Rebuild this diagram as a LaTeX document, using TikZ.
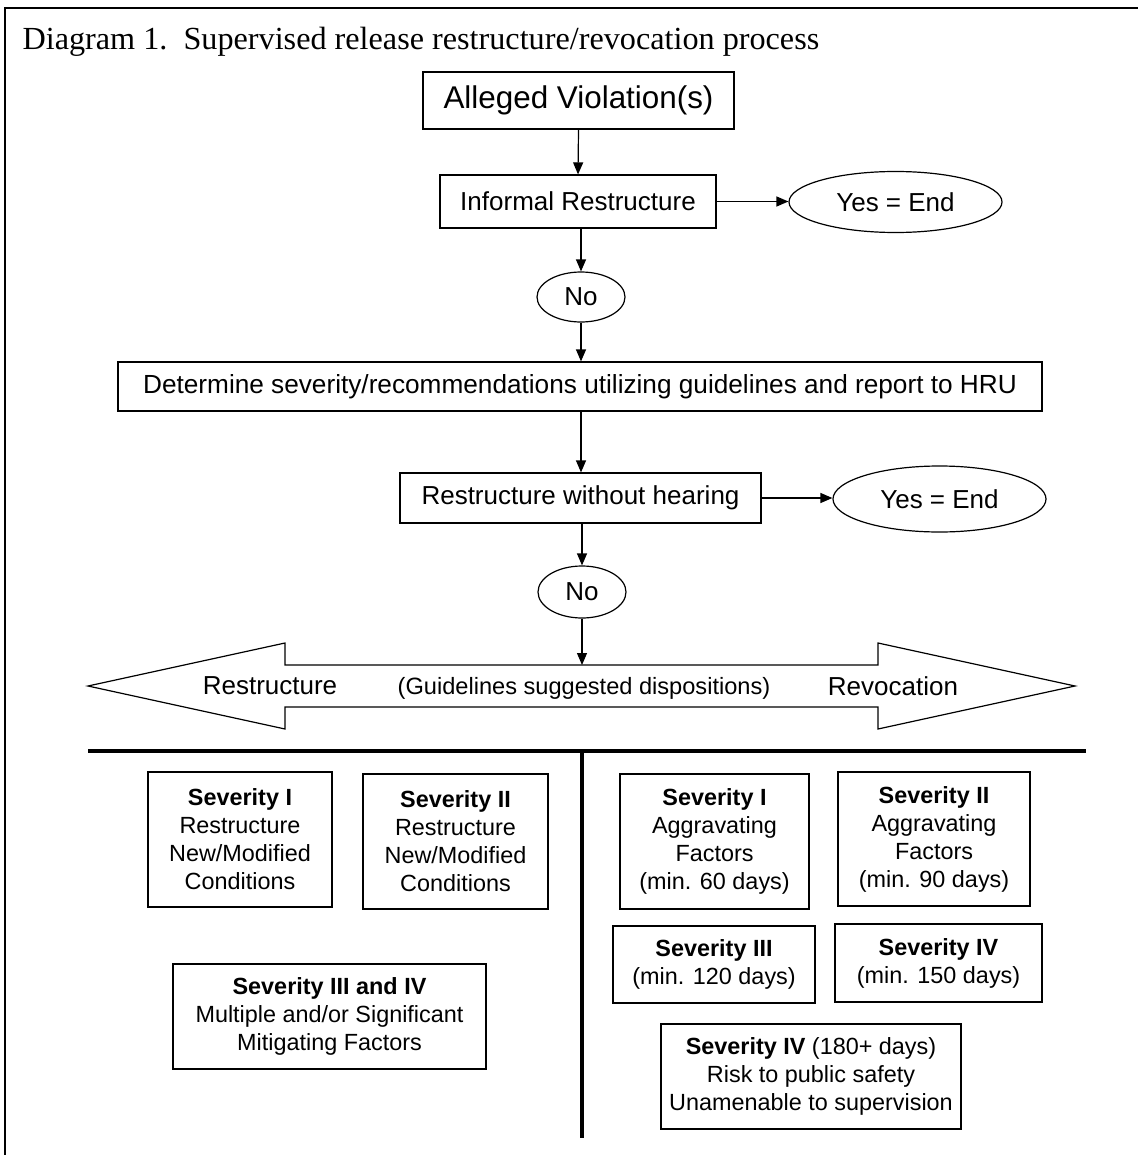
\documentclass[tikz,border=0pt]{standalone}
\usepackage{fontspec}
\setmainfont{Liberation Serif}
\setsansfont{Liberation Sans}
\usetikzlibrary{arrows.meta, shapes.geometric}

\begin{document}
\begin{tikzpicture}[x=0.5pt, y=-0.5pt, line width=0.6pt,
    box/.style={draw, inner sep=0pt, font=\sffamily\fontsize{13}{15}\selectfont},
    oval/.style={draw, ellipse, inner sep=0pt, font=\sffamily\fontsize{13}{15}\selectfont},
    sevbox/.style={draw, inner sep=0pt, align=center, font=\sffamily\fontsize{11.7}{14}\selectfont},
    arr/.style={-{Triangle[length=6pt, width=5pt]}}]
    % Page frame
    \useasboundingbox (0,0) rectangle (1138,1155);
    \draw (5,1155) -- (5,8) -- (1138,8);
    \node[anchor=base west, inner sep=0pt, font=\fontsize{16.1}{18}\selectfont] (title) at (22,50)
        {Diagram 1.\ \ Supervised release restructure/revocation process};

    % Upper flow
    \node[box, minimum width=155.5pt, minimum height=28.5pt, font=\sffamily\fontsize{15.7}{18}\selectfont] (alleged) at (578.5,100.5) {Alleged Violation(s)};
    \node[box, minimum width=138pt, minimum height=26.5pt] (informal) at (578,201.5) {Informal Restructure};
    \node[oval, minimum width=106.5pt, minimum height=30.5pt] (yes1) at (895.5,202) {Yes = End};
    \node[oval, minimum width=44pt, minimum height=25pt] (no1) at (581,297) {No};
    \node[box, minimum width=462pt, minimum height=24.5pt, font=\sffamily\fontsize{13.1}{15}\selectfont] (determine) at (580,386.5) {Determine severity/recommendations utilizing guidelines and report to HRU};
    \node[box, minimum width=180.5pt, minimum height=25pt] (nohearing) at (580.5,498) {Restructure without hearing};
    \node[oval, minimum width=106.5pt, minimum height=33pt] (yes2) at (939.5,499) {Yes = End};
    \node[oval, minimum width=44pt, minimum height=26pt] (no2) at (582,592) {No};

    \draw[arr] (alleged.south) -- (informal.south |- informal.north);
    \draw[arr] (informal.east) -- (informal.east -| yes1.west);
    \draw[arr] (informal.south -| no1.north) -- (no1.north);
    \draw[arr] (no1.south) -- (no1.south |- determine.north);
    \draw[arr] (determine.south -| no1.south) -- (nohearing.north -| no1.south);
    \draw[arr] (nohearing.east) -- (nohearing.east -| yes2.west);
    \draw[arr] (nohearing.south -| no2.north) -- (no2.north);

    % Double arrow of dispositions
    \coordinate (bodytop) at (582,665);
    \draw (88,686) -- (285,643) -- (285,665) -- (878,665) -- (878,643) -- (1075,686)
        -- (878,729) -- (878,707) -- (285,707) -- (285,729) -- cycle;
    \draw[arr] (no2.south) -- (bodytop);
    \node[font=\sffamily\fontsize{13}{15}\selectfont] (restr) at (270,686) {Restructure};
    \node[font=\sffamily\fontsize{11.8}{14}\selectfont] (guide) at (584,688) {(Guidelines suggested dispositions)};
    \node[font=\sffamily\fontsize{13}{15}\selectfont] (revoc) at (893,686) {Revocation};

    % Dividers
    \draw[line width=2pt] (88,751) -- (1086,751);
    \draw[line width=1.8pt] (582,751) -- (582,1138);

    % Restructure side
    \node[sevbox, minimum width=92pt, minimum height=67.5pt] (rs1) at (240,839.5)
        {\textbf{Severity I}\\Restructure\\New/Modified\\Conditions};
    \node[sevbox, minimum width=92.5pt, minimum height=67.5pt] (rs2) at (455.5,841.5)
        {\textbf{Severity II}\\Restructure\\New/Modified\\Conditions};
    \node[sevbox, minimum width=156.5pt, minimum height=52.5pt] (rs34) at (329.5,1016.5)
        {\textbf{Severity III and IV}\\Multiple and/or Significant\\Mitigating Factors};

    % Revocation side
    \node[sevbox, minimum width=94.5pt, minimum height=67.5pt] (rv1) at (714.5,841.5)
        {\textbf{Severity I}\\Aggravating\\Factors\\(min. 60 days)};
    \node[sevbox, minimum width=96pt, minimum height=67pt] (rv2) at (934,839)
        {\textbf{Severity II}\\Aggravating\\Factors\\(min. 90 days)};
    \node[sevbox, minimum width=101pt, minimum height=38.5pt] (rv3) at (714,964.5)
        {\textbf{Severity III}\\(min. 120 days)};
    \node[sevbox, minimum width=103.5pt, minimum height=39pt] (rv4) at (938.5,963)
        {\textbf{Severity IV}\\(min. 150 days)};
    \node[sevbox, minimum width=150pt, minimum height=52.5pt] (rv4p) at (811,1076.5)
        {\textbf{Severity IV} (180+ days)\\Risk to public safety\\Unamenable to supervision};
\end{tikzpicture}
\end{document}
